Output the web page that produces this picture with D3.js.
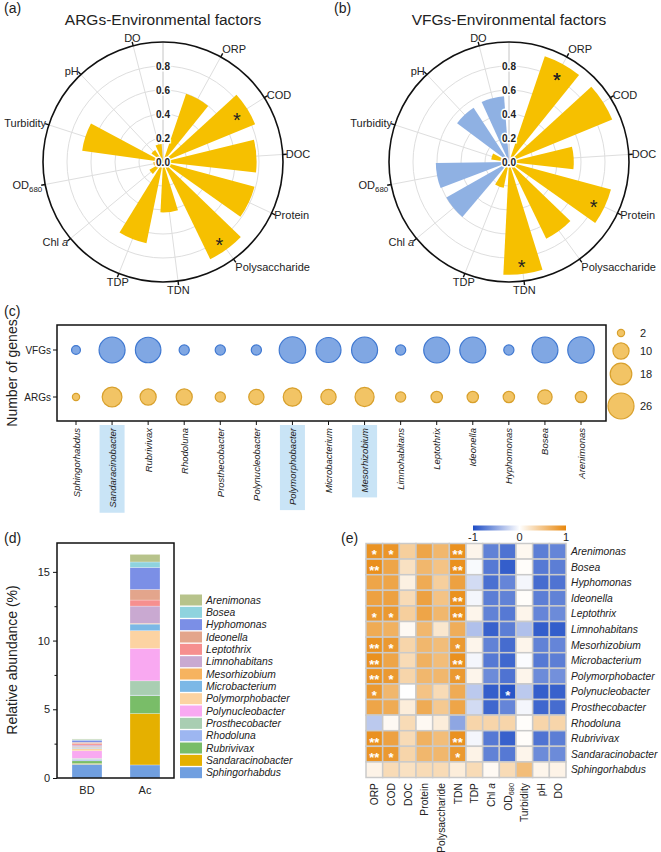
<!DOCTYPE html>
<html>
<head>
<meta charset="utf-8">
<script src="https://cdn.jsdelivr.net/npm/d3@7"></script>
<style>
	body { margin: 0; background: #fff; }
	text { font-family: "Liberation Sans", Arial, sans-serif; fill: #222; }
</style>
</head>
<body>
<div id="chart"></div>
<script>
// environmental factors, same order in polar plots and heatmap columns
var factors = ["ORP", "COD", "DOC", "Protein", "Polysaccharide", "TDN", "TDP", "Chl a", "OD680", "Turbidity", "pH", "DO"];

// (a) / (b) correlation per factor (negative = blue)
var argsCorr = [0.60, 0.83, 0.78, 0.79, 0.90, 0.42, 0.69, 0.13, 0.08, 0.68, 0.12, 0.15];
var argsStar = ["", "*", "", "", "*", "", "", "", "", "", "", ""];
var vfgsCorr = [0.93, 0.93, 0.54, 0.88, 0.71, 0.94, 0.22, -0.60, -0.61, 0.15, -0.54, -0.55];
var vfgsStar = ["*", "*", "", "*", "", "*", "", "", "", "", "", ""];
var polarTicks = [0, 0.2, 0.4, 0.6, 0.8];

// genera, alphabetical (heatmap rows, legend order)
var genera = ["Arenimonas", "Bosea", "Hyphomonas", "Ideonella", "Leptothrix", "Limnohabitans", "Mesorhizobium",
	"Microbacterium", "Polymorphobacter", "Polynucleobacter", "Prosthecobacter", "Rhodoluna", "Rubrivivax",
	"Sandaracinobacter", "Sphingorhabdus"];
var generaColor = ["#b7c38b", "#8fd3de", "#7b8fe6", "#e3a58c", "#f68f8f", "#c9a9d1", "#f6b35f",
	"#7cb8e6", "#fcd3a2", "#f9a9f1", "#a9ceb2", "#9db6f1", "#79bd68", "#e5b000", "#709fe0"];

// (c) number of genes, per genus (alphabetical order)
var vfgCount = [27, 26, 4, 26, 26, 4, 26, 24, 27, 4, 4, 4, 25, 26, 3];
var argCount = [5, 8, 5, 5, 5, 4, 14, 9, 13, 9, 4, 10, 10, 15, 2];
var highlight = ["Sandaracinobacter", "Polymorphobacter", "Mesorhizobium"];
var sizeLegend = [2, 10, 18, 26];

// (d) relative abundance (%), alphabetical order
var samples = ["BD", "Ac"];
var abundBD = [0.04, 0.05, 0.15, 0.1, 0.1, 0.12, 0.05, 0.08, 0.17, 0.55, 0.08, 0.1, 0.2, 0.05, 1.0];
var abundAc = [0.55, 0.4, 1.6, 0.77, 0.44, 1.26, 0.05, 0.48, 1.29, 2.36, 1.04, 0.03, 1.31, 3.74, 0.95];
var abundTicks = [0, 5, 10, 15];

// (e) correlation matrix, rows = genera (alphabetical), cols = factors
var corr = [
	[0.90, 0.88, 0.40, 0.75, 0.60, 0.92, 0.08, -0.70, -0.78, 0.06, -0.72, -0.68],
	[0.93, 0.75, 0.25, 0.60, 0.50, 0.92, -0.03, -0.75, -0.90, 0.02, -0.75, -0.72],
	[0.75, 0.75, 0.12, 0.70, 0.40, 0.78, -0.20, -0.80, -0.68, -0.05, -0.82, -0.78],
	[0.78, 0.78, 0.30, 0.78, 0.50, 0.92, -0.05, -0.72, -0.70, 0.02, -0.72, -0.70],
	[0.85, 0.85, 0.40, 0.75, 0.60, 0.92, 0.08, -0.70, -0.75, 0.08, -0.68, -0.65],
	[0.70, 0.65, 0.05, 0.60, 0.20, 0.68, -0.35, -0.88, -0.72, -0.35, -0.90, -0.90],
	[0.90, 0.85, 0.35, 0.60, 0.55, 0.85, 0.08, -0.70, -0.82, 0.08, -0.70, -0.68],
	[0.92, 0.75, 0.30, 0.65, 0.55, 0.92, -0.05, -0.75, -0.85, -0.02, -0.75, -0.72],
	[0.90, 0.85, 0.35, 0.60, 0.60, 0.85, 0.08, -0.65, -0.78, 0.08, -0.65, -0.62],
	[0.85, 0.60, 0.00, 0.50, 0.30, 0.70, -0.30, -0.90, -0.95, -0.30, -0.90, -0.88],
	[0.75, 0.70, 0.15, 0.70, 0.45, 0.75, -0.20, -0.85, -0.68, -0.05, -0.85, -0.82],
	[-0.30, 0.05, 0.30, 0.05, 0.15, -0.50, 0.35, 0.35, 0.35, 0.02, 0.35, 0.35],
	[0.92, 0.78, 0.30, 0.65, 0.55, 0.92, -0.05, -0.75, -0.88, 0.02, -0.78, -0.72],
	[0.90, 0.85, 0.35, 0.60, 0.60, 0.85, 0.10, -0.70, -0.75, 0.08, -0.65, -0.65],
	[0.10, 0.30, 0.25, 0.30, 0.30, 0.15, 0.30, 0.05, 0.30, 0.55, 0.08, 0.10]
];
var sig = [
	["*", "*", "", "", "", "**", "", "", "", "", "", ""],
	["**", "", "", "", "", "**", "", "", "", "", "", ""],
	["", "", "", "", "", "", "", "", "", "", "", ""],
	["", "", "", "", "", "**", "", "", "", "", "", ""],
	["*", "*", "", "", "", "**", "", "", "", "", "", ""],
	["", "", "", "", "", "", "", "", "", "", "", ""],
	["**", "*", "", "", "", "*", "", "", "", "", "", ""],
	["**", "", "", "", "", "**", "", "", "", "", "", ""],
	["**", "*", "", "", "", "*", "", "", "", "", "", ""],
	["*", "", "", "", "", "", "", "", "*", "", "", ""],
	["", "", "", "", "", "", "", "", "", "", "", ""],
	["", "", "", "", "", "", "", "", "", "", "", ""],
	["**", "", "", "", "", "**", "", "", "", "", "", ""],
	["**", "*", "", "", "", "*", "", "", "", "", "", ""],
	["", "", "", "", "", "", "", "", "", "", "", ""]
];
var barTicks = [-1, 0, 1];

var yellow = "#f6c000",
	blue = "#8fb1e3";

var svg = d3.select("#chart").append("svg")
	.attr("width", 661)
	.attr("height", 852);

svg.append("rect").attr("width", 661).attr("height", 852).attr("fill", "#fff");

// writes factor names with italic / subscript parts
function factorText(t, d)
{
	if (d === "Chl a") {
		t.append("tspan").text("Chl ");
		t.append("tspan").attr("font-style", "italic").text("a");
	} else if (d === "OD680") {
		t.append("tspan").text("OD");
		t.append("tspan").attr("font-size", "0.72em").attr("dy", "0.35em").text("680");
	} else {
		t.text(d);
	}
}

function tag(x, y, s)
{
	svg.append("text").attr("x", x).attr("y", y).attr("font-size", 14).text(s);
}

// ---------- polar bar plots ----------
function polar(cx, cy, title, vals, stars)
{
	var g = svg.append("g").attr("transform", "translate(" + cx + "," + cy + ")");
	var ang = d3.scaleLinear().domain([0, 12.5]).range([0, 2 * Math.PI]);
	var r = d3.scaleLinear().domain([0, 1]).range([0, 120]);
	var half = ang(0.35);
	var arc = d3.arc().innerRadius(0);

	g.selectAll(".ring").data(polarTicks.slice(1)).enter().append("circle")
	.attr("r", r).attr("fill", "none").attr("stroke", "#dedede").attr("stroke-width", 1);

	g.selectAll(".spoke").data(factors).enter().append("line")
	.attr("x2", function(d, i) { return r(1) * Math.sin(ang(i + 1)); })
	.attr("y2", function(d, i) { return -r(1) * Math.cos(ang(i + 1)); })
	.attr("stroke", "#dedede");

	g.append("line").attr("y2", -r(1)).attr("stroke", "#c4c4c4");

	g.selectAll(".bar").data(vals).enter().append("path")
	.attr("d", function(d, i) {
		return arc({outerRadius: r(Math.abs(d)), startAngle: ang(i + 1) - half, endAngle: ang(i + 1) + half});
	})
	.attr("fill", function(d) { return d < 0 ? blue : yellow; });

	g.append("circle").attr("r", r(1)).attr("fill", "none").attr("stroke", "#111").attr("stroke-width", 1.6);

	g.selectAll(".otick").data(factors).enter().append("line")
	.attr("x1", function(d, i) { return r(1) * Math.sin(ang(i + 1)); })
	.attr("y1", function(d, i) { return -r(1) * Math.cos(ang(i + 1)); })
	.attr("x2", function(d, i) { return (r(1) + 4) * Math.sin(ang(i + 1)); })
	.attr("y2", function(d, i) { return -(r(1) + 4) * Math.cos(ang(i + 1)); })
	.attr("stroke", "#111").attr("stroke-width", 1.4);

	g.selectAll(".flab").data(factors).enter().append("text")
	.attr("font-size", 11)
	.attr("x", function(d, i) { return 123 * Math.sin(ang(i + 1)); })
	.attr("y", function(d, i) {
		var c = Math.cos(ang(i + 1));
		return -125 * c + (c > 0.8 ? -3 : (c < -0.8 ? 4 : 0));
	})
	.attr("dy", "0.35em")
	.attr("text-anchor", function(d, i) {
		var s = Math.sin(ang(i + 1));
		return s > 0.4 ? "start" : (s < -0.4 ? "end" : "middle");
	})
	.each(function(d) { factorText(d3.select(this), d); });

	g.selectAll(".rtick").data(polarTicks).enter().append("text")
	.attr("y", function(d) { return -r(d); })
	.attr("dy", "0.35em")
	.attr("text-anchor", "middle")
	.attr("font-size", 10).attr("font-weight", "bold")
	.attr("stroke", "#fff").attr("stroke-width", 3).attr("paint-order", "stroke")
	.text(function(d) { return d.toFixed(1); });

	g.selectAll(".star").data(vals).enter().filter(function(d, i) { return stars[i]; }).append("text")
	.attr("x", function(d) { var i = vals.indexOf(d); return r(Math.abs(d) - 0.1) * Math.sin(ang(i + 1)); })
	.attr("y", function(d) { var i = vals.indexOf(d); return -r(Math.abs(d) - 0.1) * Math.cos(ang(i + 1)); })
	.attr("dy", "0.6em")
	.attr("text-anchor", "middle").attr("font-size", 20)
	.text("*");

	svg.append("text").attr("x", cx).attr("y", 25).attr("text-anchor", "middle").attr("font-size", 15.5).text(title);
}

tag(4, 13, "(a)");
polar(163, 162, "ARGs-Environmental factors", argsCorr, argsStar);
tag(334, 13, "(b)");
polar(509, 162, "VFGs-Environmental factors", vfgsCorr, vfgsStar);

// ---------- (c) bubble chart ----------
tag(4, 316, "(c)");
var generaC = genera.slice().reverse();
var bx = d3.scalePoint().domain(generaC).range([76, 581]);
var by = d3.scalePoint().domain(["VFGs", "ARGs"]).range([350, 397]);
var rs = d3.scaleSqrt().domain([0, 26]).range([0, 13]);

var hl = svg.append("g");

svg.append("rect").attr("x", 57).attr("y", 325).attr("width", 549).attr("height", 96)
.attr("fill", "none").attr("stroke", "#111").attr("stroke-width", 1.5);

var bubbles = genera.map(function(d, i) { return {g: d, vfg: vfgCount[i], arg: argCount[i]}; });

svg.selectAll(".vfg").data(bubbles).enter().append("circle")
.attr("cx", function(d) { return bx(d.g); }).attr("cy", by("VFGs"))
.attr("r", function(d) { return rs(d.vfg); })
.attr("fill", "#80a7e3").attr("stroke", "#3f78d1").attr("stroke-width", 1.2);

svg.selectAll(".arg").data(bubbles).enter().append("circle")
.attr("cx", function(d) { return bx(d.g); }).attr("cy", by("ARGs"))
.attr("r", function(d) { return rs(d.arg); })
.attr("fill", "#f2c465").attr("stroke", "#d8a02c").attr("stroke-width", 1.2);

by.domain().forEach(function(k) {
	svg.append("line").attr("x1", 53).attr("x2", 57).attr("y1", by(k)).attr("y2", by(k)).attr("stroke", "#111");
	svg.append("text").attr("x", 51).attr("y", by(k)).attr("dy", "0.35em").attr("text-anchor", "end")
	.attr("font-size", 10).text(k);
});

svg.selectAll(".gtick").data(generaC).enter().append("line")
.attr("x1", bx).attr("x2", bx).attr("y1", 421).attr("y2", 425).attr("stroke", "#111");

svg.selectAll(".glab").data(generaC).enter().append("text")
.attr("transform", function(d) { return "translate(" + (bx(d) + 3.5) + ",428)rotate(-90)"; })
.attr("text-anchor", "end").attr("font-size", 9.5).attr("font-style", "italic")
.text(function(d) { return d; })
.each(function(d) {
	if (highlight.indexOf(d) < 0) return;
	var len = this.getComputedTextLength();
	hl.append("rect").attr("x", bx(d) - 12.5).attr("y", 425).attr("width", 25).attr("height", len + 8)
	.attr("fill", "#c9e4f6");
});

svg.append("text").attr("transform", "translate(17,373)rotate(-90)").attr("text-anchor", "middle")
.attr("font-size", 14).text("Number of genes");

var legY = [333, 351, 374, 406];
svg.selectAll(".sleg").data(sizeLegend).enter().append("circle")
.attr("cx", 621).attr("cy", function(d, i) { return legY[i]; }).attr("r", rs)
.attr("fill", "#f2c465").attr("stroke", "#d8a02c").attr("stroke-width", 1.2);
svg.selectAll(".slab").data(sizeLegend).enter().append("text")
.attr("x", 640).attr("y", function(d, i) { return legY[i]; }).attr("dy", "0.35em")
.attr("font-size", 11).text(function(d) { return d; });

// ---------- (d) stacked bars ----------
tag(4, 543, "(d)");
var ya = d3.scaleLinear().domain([0, 17.1]).range([778, 543]);
var xa = d3.scalePoint().domain(samples).range([87, 145]);
var rows = samples.map(function(s, k) {
	var o = {sample: s};
	genera.forEach(function(gname, i) { o[gname] = (k === 0 ? abundBD : abundAc)[i]; });
	return o;
});
var stack = d3.stack().keys(generaC)(rows);
var color = d3.scaleOrdinal().domain(genera).range(generaColor);

svg.selectAll(".layer").data(stack).enter().append("g")
.attr("fill", function(d) { return color(d.key); })
.selectAll("rect").data(function(d) { return d; }).enter().append("rect")
.attr("x", function(d) { return xa(d.data.sample) - 15; })
.attr("width", 30)
.attr("y", function(d) { return ya(d[1]); })
.attr("height", function(d) { return ya(d[0]) - ya(d[1]); })
.attr("stroke", "rgba(255,255,255,0.5)").attr("stroke-width", 0.5);

svg.append("rect").attr("x", 57).attr("y", 543).attr("width", 117).attr("height", 235)
.attr("fill", "none").attr("stroke", "#111").attr("stroke-width", 1.5);

svg.append("g").attr("transform", "translate(57,0)")
.call(d3.axisLeft(ya).tickValues(abundTicks).tickSize(4).tickFormat(d3.format("d")))
.call(function(a) {
	a.select(".domain").remove();
	a.selectAll("text").attr("font-size", 11).attr("font-family", null).attr("fill", "#222");
	a.selectAll("line").attr("stroke", "#111");
});
svg.append("g").attr("transform", "translate(57,0)")
.call(d3.axisLeft(ya).tickValues([2.5, 7.5, 12.5]).tickSize(2.5).tickFormat(""))
.call(function(a) { a.select(".domain").remove(); a.selectAll("line").attr("stroke", "#111"); });

svg.selectAll(".slab2").data(samples).enter().append("text")
.attr("x", xa).attr("y", 794).attr("text-anchor", "middle").attr("font-size", 11).text(function(d) { return d; });

svg.append("text").attr("transform", "translate(17,660)rotate(-90)").attr("text-anchor", "middle")
.attr("font-size", 14).text("Relative abundance (%)");

var ly = d3.scalePoint().domain(genera).range([600, 772.7]);
svg.selectAll(".lsw").data(genera).enter().append("rect")
.attr("x", 180).attr("y", function(d) { return ly(d) - 5.5; }).attr("width", 22).attr("height", 11)
.attr("fill", color);
svg.selectAll(".ltx").data(genera).enter().append("text")
.attr("x", 206).attr("y", ly).attr("dy", "0.35em").attr("font-size", 10.3).attr("font-style", "italic")
.text(function(d) { return d; });

// ---------- (e) heatmap ----------
tag(341, 543, "(e)");
var hx = d3.scaleBand().domain(factors).range([366, 566]);
var hy = d3.scaleBand().domain(genera).range([543.5, 777.5]);
var heat = d3.scaleLinear().domain([-1, 0, 1]).range(["#1d4cc5", "#ffffff", "#e8870b"]);

var cells = [];
genera.forEach(function(gname, i) {
	factors.forEach(function(f, j) { cells.push({g: gname, f: f, v: corr[i][j], s: sig[i][j]}); });
});

svg.selectAll(".cell").data(cells).enter().append("rect")
.attr("x", function(d) { return hx(d.f); }).attr("y", function(d) { return hy(d.g); })
.attr("width", hx.bandwidth()).attr("height", hy.bandwidth())
.attr("fill", function(d) { return heat(d.v); })
.attr("stroke", "#cacaca").attr("stroke-width", 1.5);

svg.selectAll(".sig").data(cells.filter(function(d) { return d.s; })).enter().append("text")
.attr("x", function(d) { return hx(d.f) + hx.bandwidth() / 2; })
.attr("y", function(d) { return hy(d.g) + hy.bandwidth() / 2; })
.attr("dy", "0.62em").attr("text-anchor", "middle").attr("font-size", 13).attr("font-weight", "bold")
.style("fill", "#fff").text(function(d) { return d.s; });

svg.selectAll(".rlab").data(genera).enter().append("text")
.attr("x", 571).attr("y", function(d) { return hy(d) + hy.bandwidth() / 2; }).attr("dy", "0.35em")
.attr("font-size", 10.3).attr("font-style", "italic").text(function(d) { return d; });

svg.selectAll(".clab").data(factors).enter().append("text")
.attr("transform", function(d) { return "translate(" + (hx(d) + hx.bandwidth() / 2 + 4) + ",783)rotate(-90)"; })
.attr("text-anchor", "end").attr("font-size", 10.3)
.each(function(d) { factorText(d3.select(this), d); });

var grad = svg.append("defs").append("linearGradient").attr("id", "cbar");
grad.selectAll("stop").data(d3.range(0, 1.01, 0.1)).enter().append("stop")
.attr("offset", function(d) { return d; })
.attr("stop-color", function(d) { return heat(d * 2 - 1); });

var cb = d3.scaleLinear().domain([-1, 1]).range([473, 566]);
svg.append("rect").attr("x", cb(-1)).attr("y", 525.5).attr("width", cb(1) - cb(-1)).attr("height", 5)
.attr("fill", "url(#cbar)");
svg.selectAll(".cbl").data(barTicks).enter().append("text")
.attr("x", cb).attr("y", 541).attr("text-anchor", "middle").attr("font-size", 11).text(function(d) { return d; });
</script>
</body>
</html>
